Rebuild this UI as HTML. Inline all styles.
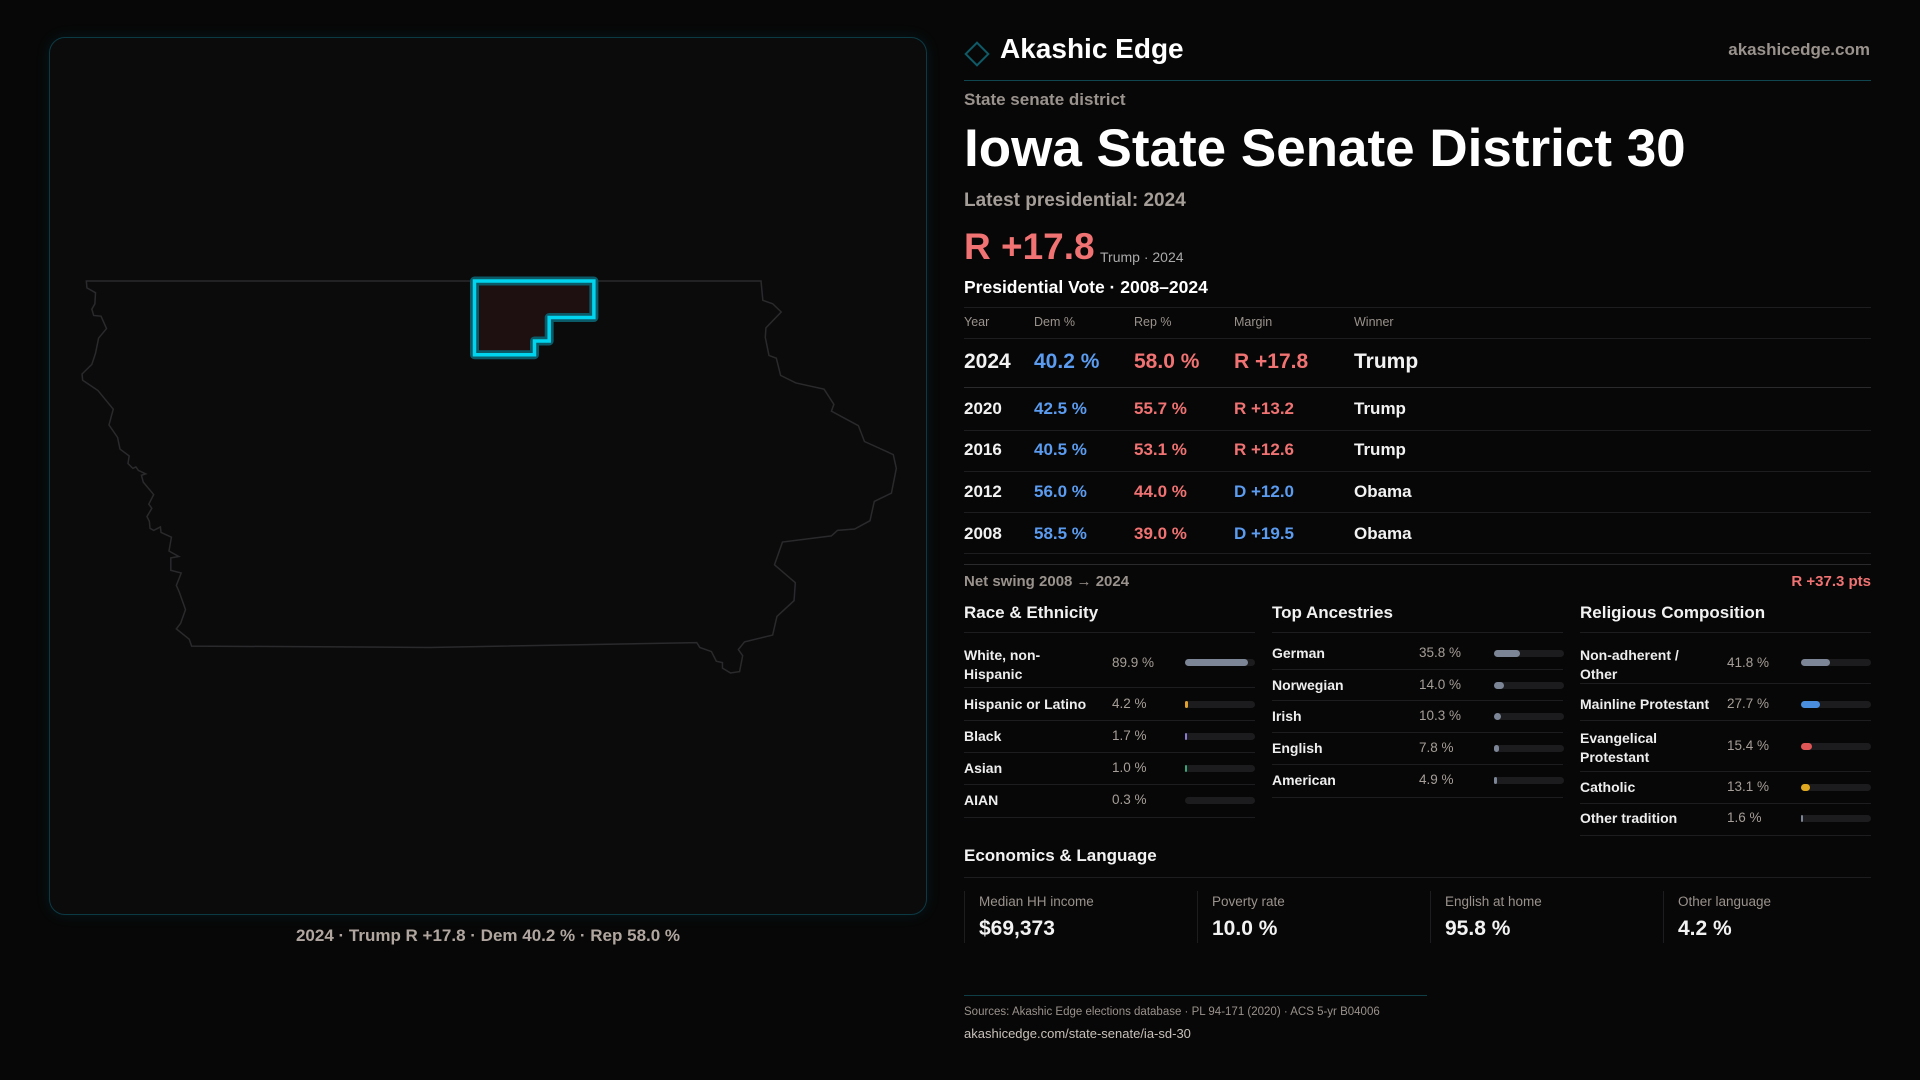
<!DOCTYPE html>
<html><head><meta charset="utf-8">
<style>
*{margin:0;padding:0;box-sizing:border-box}
body{width:1920px;height:1080px;background:#070707;font-family:"Liberation Sans",sans-serif;color:#f2f2f2;position:relative;overflow:hidden}
.a{position:absolute;white-space:nowrap;line-height:1}
.g{color:#9a928c}
.hl{position:absolute;height:1px;background:#1d1d1f}
.b{color:#5b9cf0}.r{color:#f07272}
.trk{position:absolute;height:7px;border-radius:4px;background:#1c1c1e}
.trk i{position:absolute;left:0;top:0;height:7px;border-radius:4px;display:block}
.lab{font-size:14px;font-weight:bold;color:#eee}
.val{font-size:13.5px;color:#a69e98}
</style></head><body>
<div style="position:absolute;left:49px;top:37px;width:878px;height:878px;border:1px solid #0c3a44;border-radius:16px;background:#0b0b0c;box-shadow:0 0 14px rgba(0,160,190,0.12)"></div>
<svg style="position:absolute;left:0;top:0" width="960" height="1080" viewBox="0 0 1568 1568" preserveAspectRatio="none">
<path vector-effect="non-scaling-stroke" fill="none" stroke="#2a2a2c" stroke-width="1.5" d="M141,408 L1243,408 1246,436 1262,441 1276,453 1251,476 1250,490 1256,516 1268,520 1275,545 1300,556 1346,565 1362,587 1358,597 1402,618 1412,641 1459,660 1464,680 1456,716 1428,728 1421,756 1396,768 1368,770 1358,778 1278,787 1265,820 1299,846 1297,872 1269,895 1262,922 1216,932 1206,943 1213,952 1208,975 1193,977 1180,970 1180,962 1170,960 1162,946 1143,940 1138,933 700,940 313,938 309,928 288,913 295,905 303,885 293,860 288,850 296,832 279,828 279,810 292,808 276,800 280,780 263,773 262,765 251,770 245,767 244,757 240,750 248,738 243,732 251,718 234,700 231,690 238,688 226,683 222,678 217,680 209,673 211,662 196,652 192,635 178,617 185,594 160,567 135,552 134,543 150,529 156,513 161,491 174,477 165,459 153,458 150,449 155,441 156,425 142,418 Z"/>
<path vector-effect="non-scaling-stroke" fill="#1e0f10" stroke="#0b5a68" stroke-width="9" stroke-linejoin="round" d="M775,408 L970,408 970,461 897,461 897,495 873,495 873,515 775,515 Z"/>
<path vector-effect="non-scaling-stroke" fill="none" stroke="#00d4ee" stroke-width="3.5" d="M775,408 L970,408 970,461 897,461 897,495 873,495 873,515 775,515 Z"/>
</svg>
<div class="a" style="left:0;width:976px;text-align:center;top:927px;font-size:17px;font-weight:bold;color:#b0a69f">2024 · Trump R +17.8 · Dem 40.2 % · Rep 58.0 %</div>

<div style="position:absolute;left:968px;top:45px;width:18px;height:18px;border:2px solid #0f5a66;transform:rotate(45deg)"></div>
<div class="a" style="left:1000px;top:35px;font-size:28px;font-weight:bold;color:#fff">Akashic Edge</div>
<div class="a g" style="right:50px;top:41px;font-size:17px;font-weight:bold">akashicedge.com</div>
<div class="hl" style="left:964px;width:907px;top:80px;background:#0f4650"></div>
<div class="a g" style="left:964px;top:91px;font-size:17px;font-weight:bold">State senate district</div>
<div class="a" style="left:964px;top:122px;font-size:53px;font-weight:bold;color:#fff">Iowa State Senate District 30</div>
<div class="a" style="left:964px;top:191px;font-size:19px;font-weight:bold;color:#a59d97">Latest presidential: 2024</div>
<div class="a r" style="left:964px;top:228px;font-size:37px;font-weight:bold">R +17.8</div>
<div class="a" style="left:1100px;top:250px;font-size:14px;color:#aaa">Trump · 2024</div>
<div class="a" style="left:964px;top:279px;font-size:17.5px;font-weight:bold;color:#fff">Presidential Vote · 2008–2024</div>
<div class="hl" style="left:964px;width:907px;top:307px"></div>
<div class="a g" style="left:964px;top:316px;font-size:12.5px">Year</div>
<div class="a g" style="left:1034px;top:316px;font-size:12.5px">Dem %</div>
<div class="a g" style="left:1134px;top:316px;font-size:12.5px">Rep %</div>
<div class="a g" style="left:1234px;top:316px;font-size:12.5px">Margin</div>
<div class="a g" style="left:1354px;top:316px;font-size:12.5px">Winner</div>
<div class="hl" style="left:964px;width:907px;top:338px"></div>
<div class="a" style="left:964px;top:351px;font-size:21px;font-weight:bold">2024</div>
<div class="a b" style="left:1034px;top:351px;font-size:21px;font-weight:bold">40.2 %</div>
<div class="a r" style="left:1134px;top:351px;font-size:21px;font-weight:bold">58.0 %</div>
<div class="a r" style="left:1234px;top:351px;font-size:21px;font-weight:bold">R +17.8</div>
<div class="a" style="left:1354px;top:351px;font-size:21px;font-weight:bold">Trump</div>
<div class="hl" style="left:964px;width:907px;top:387px;background:#2a2a2c"></div>

<div class="a" style="left:964px;top:400px;font-size:17px;font-weight:bold">2020</div>
<div class="a b" style="left:1034px;top:400px;font-size:17px;font-weight:bold">42.5 %</div>
<div class="a r" style="left:1134px;top:400px;font-size:17px;font-weight:bold">55.7 %</div>
<div class="a r" style="left:1234px;top:400px;font-size:17px;font-weight:bold">R +13.2</div>
<div class="a" style="left:1354px;top:400px;font-size:17px;font-weight:bold">Trump</div>
<div class="hl" style="left:964px;width:907px;top:430px"></div>
<div class="a" style="left:964px;top:441px;font-size:17px;font-weight:bold">2016</div>
<div class="a b" style="left:1034px;top:441px;font-size:17px;font-weight:bold">40.5 %</div>
<div class="a r" style="left:1134px;top:441px;font-size:17px;font-weight:bold">53.1 %</div>
<div class="a r" style="left:1234px;top:441px;font-size:17px;font-weight:bold">R +12.6</div>
<div class="a" style="left:1354px;top:441px;font-size:17px;font-weight:bold">Trump</div>
<div class="hl" style="left:964px;width:907px;top:471px"></div>
<div class="a" style="left:964px;top:483px;font-size:17px;font-weight:bold">2012</div>
<div class="a b" style="left:1034px;top:483px;font-size:17px;font-weight:bold">56.0 %</div>
<div class="a r" style="left:1134px;top:483px;font-size:17px;font-weight:bold">44.0 %</div>
<div class="a b" style="left:1234px;top:483px;font-size:17px;font-weight:bold">D +12.0</div>
<div class="a" style="left:1354px;top:483px;font-size:17px;font-weight:bold">Obama</div>
<div class="hl" style="left:964px;width:907px;top:512px"></div>
<div class="a" style="left:964px;top:525px;font-size:17px;font-weight:bold">2008</div>
<div class="a b" style="left:1034px;top:525px;font-size:17px;font-weight:bold">58.5 %</div>
<div class="a r" style="left:1134px;top:525px;font-size:17px;font-weight:bold">39.0 %</div>
<div class="a b" style="left:1234px;top:525px;font-size:17px;font-weight:bold">D +19.5</div>
<div class="a" style="left:1354px;top:525px;font-size:17px;font-weight:bold">Obama</div>
<div class="hl" style="left:964px;width:907px;top:553px"></div>
<div class="hl" style="left:964px;width:907px;top:564px;background:#2a2a2c"></div>
<div class="a g" style="left:964px;top:574px;font-size:15px;font-weight:bold">Net swing 2008 → 2024</div>
<div class="a r" style="right:49px;top:574px;font-size:15px;font-weight:bold">R +37.3 pts</div>

<div class="a" style="left:964px;top:604px;font-size:17px;font-weight:bold">Race &amp; Ethnicity</div>
<div class="a" style="left:1272px;top:604px;font-size:17px;font-weight:bold">Top Ancestries</div>
<div class="a" style="left:1580px;top:604px;font-size:17px;font-weight:bold">Religious Composition</div>
<div class="hl" style="left:964px;width:291px;top:632px"></div>
<div class="hl" style="left:1272px;width:291px;top:632px"></div>
<div class="hl" style="left:1580px;width:291px;top:632px"></div>

<div class="a lab" style="left:964px;top:646px;line-height:19px">White, non-<br>Hispanic</div>
<div class="a val" style="left:1112px;top:656px">89.9 %</div>
<div class="trk" style="left:1185px;top:659px;width:70px"><i style="width:63px;background:#7b8595"></i></div>
<div class="hl" style="left:964px;width:291px;top:687px"></div>
<div class="a lab" style="left:964px;top:697px">Hispanic or Latino</div>
<div class="a val" style="left:1112px;top:697px">4.2 %</div>
<div class="trk" style="left:1185px;top:701px;width:70px"><i style="width:3px;background:#e0a030"></i></div>
<div class="hl" style="left:964px;width:291px;top:720px"></div>
<div class="a lab" style="left:964px;top:729px">Black</div>
<div class="a val" style="left:1112px;top:729px">1.7 %</div>
<div class="trk" style="left:1185px;top:733px;width:70px"><i style="width:2px;background:#8a7ad0"></i></div>
<div class="hl" style="left:964px;width:291px;top:752px"></div>
<div class="a lab" style="left:964px;top:761px">Asian</div>
<div class="a val" style="left:1112px;top:761px">1.0 %</div>
<div class="trk" style="left:1185px;top:765px;width:70px"><i style="width:2px;background:#3aa37a"></i></div>
<div class="hl" style="left:964px;width:291px;top:784px"></div>
<div class="a lab" style="left:964px;top:793px">AIAN</div>
<div class="a val" style="left:1112px;top:793px">0.3 %</div>
<div class="trk" style="left:1185px;top:797px;width:70px"></div>
<div class="hl" style="left:964px;width:291px;top:817px"></div>

<div class="a lab" style="left:1272px;top:646px">German</div>
<div class="a val" style="left:1419px;top:646px">35.8 %</div>
<div class="trk" style="left:1494px;top:650px;width:70px"><i style="width:26px;background:#7b8595"></i></div>
<div class="hl" style="left:1272px;width:291px;top:669px"></div>
<div class="a lab" style="left:1272px;top:678px">Norwegian</div>
<div class="a val" style="left:1419px;top:678px">14.0 %</div>
<div class="trk" style="left:1494px;top:682px;width:70px"><i style="width:10px;background:#7b8595"></i></div>
<div class="hl" style="left:1272px;width:291px;top:700px"></div>
<div class="a lab" style="left:1272px;top:709px">Irish</div>
<div class="a val" style="left:1419px;top:709px">10.3 %</div>
<div class="trk" style="left:1494px;top:713px;width:70px"><i style="width:7px;background:#7b8595"></i></div>
<div class="hl" style="left:1272px;width:291px;top:732px"></div>
<div class="a lab" style="left:1272px;top:741px">English</div>
<div class="a val" style="left:1419px;top:741px">7.8 %</div>
<div class="trk" style="left:1494px;top:745px;width:70px"><i style="width:5px;background:#7b8595"></i></div>
<div class="hl" style="left:1272px;width:291px;top:764px"></div>
<div class="a lab" style="left:1272px;top:773px">American</div>
<div class="a val" style="left:1419px;top:773px">4.9 %</div>
<div class="trk" style="left:1494px;top:777px;width:70px"><i style="width:3px;background:#7b8595"></i></div>
<div class="hl" style="left:1272px;width:291px;top:797px"></div>

<div class="a lab" style="left:1580px;top:646px;line-height:19px">Non-adherent /<br>Other</div>
<div class="a val" style="left:1727px;top:656px">41.8 %</div>
<div class="trk" style="left:1801px;top:659px;width:70px"><i style="width:29px;background:#7b8595"></i></div>
<div class="hl" style="left:1580px;width:291px;top:683px"></div>
<div class="a lab" style="left:1580px;top:697px">Mainline Protestant</div>
<div class="a val" style="left:1727px;top:697px">27.7 %</div>
<div class="trk" style="left:1801px;top:701px;width:70px"><i style="width:19px;background:#4a8ee0"></i></div>
<div class="hl" style="left:1580px;width:291px;top:720px"></div>
<div class="a lab" style="left:1580px;top:729px;line-height:19px">Evangelical<br>Protestant</div>
<div class="a val" style="left:1727px;top:739px">15.4 %</div>
<div class="trk" style="left:1801px;top:743px;width:70px"><i style="width:11px;background:#e05555"></i></div>
<div class="hl" style="left:1580px;width:291px;top:771px"></div>
<div class="a lab" style="left:1580px;top:780px">Catholic</div>
<div class="a val" style="left:1727px;top:780px">13.1 %</div>
<div class="trk" style="left:1801px;top:784px;width:70px"><i style="width:9px;background:#e0a820"></i></div>
<div class="hl" style="left:1580px;width:291px;top:803px"></div>
<div class="a lab" style="left:1580px;top:811px">Other tradition</div>
<div class="a val" style="left:1727px;top:811px">1.6 %</div>
<div class="trk" style="left:1801px;top:815px;width:70px"><i style="width:2px;background:#7b8595"></i></div>
<div class="hl" style="left:1580px;width:291px;top:835px"></div>

<div class="a" style="left:964px;top:847px;font-size:17px;font-weight:bold">Economics &amp; Language</div>
<div class="hl" style="left:964px;width:907px;top:877px"></div>
<div style="position:absolute;left:964px;top:891px;width:1px;height:52px;background:#1d1d1f"></div>
<div style="position:absolute;left:1197px;top:891px;width:1px;height:52px;background:#1d1d1f"></div>
<div style="position:absolute;left:1430px;top:891px;width:1px;height:52px;background:#1d1d1f"></div>
<div style="position:absolute;left:1663px;top:891px;width:1px;height:52px;background:#1d1d1f"></div>
<div class="a g" style="left:979px;top:895px;font-size:13.5px">Median HH income</div>
<div class="a" style="left:979px;top:918px;font-size:21px;font-weight:bold">$69,373</div>
<div class="a g" style="left:1212px;top:895px;font-size:13.5px">Poverty rate</div>
<div class="a" style="left:1212px;top:918px;font-size:21px;font-weight:bold">10.0 %</div>
<div class="a g" style="left:1445px;top:895px;font-size:13.5px">English at home</div>
<div class="a" style="left:1445px;top:918px;font-size:21px;font-weight:bold">95.8 %</div>
<div class="a g" style="left:1678px;top:895px;font-size:13.5px">Other language</div>
<div class="a" style="left:1678px;top:918px;font-size:21px;font-weight:bold">4.2 %</div>

<div class="hl" style="left:964px;width:463px;top:995px;background:#0f3e46"></div>
<div class="a g" style="left:964px;top:1007px;font-size:11.5px">Sources: Akashic Edge elections database · PL 94-171 (2020) · ACS 5-yr B04006</div>
<div class="a" style="left:964px;top:1027px;font-size:13px;color:#c8c0ba">akashicedge.com/state-senate/ia-sd-30</div>
</body></html>
